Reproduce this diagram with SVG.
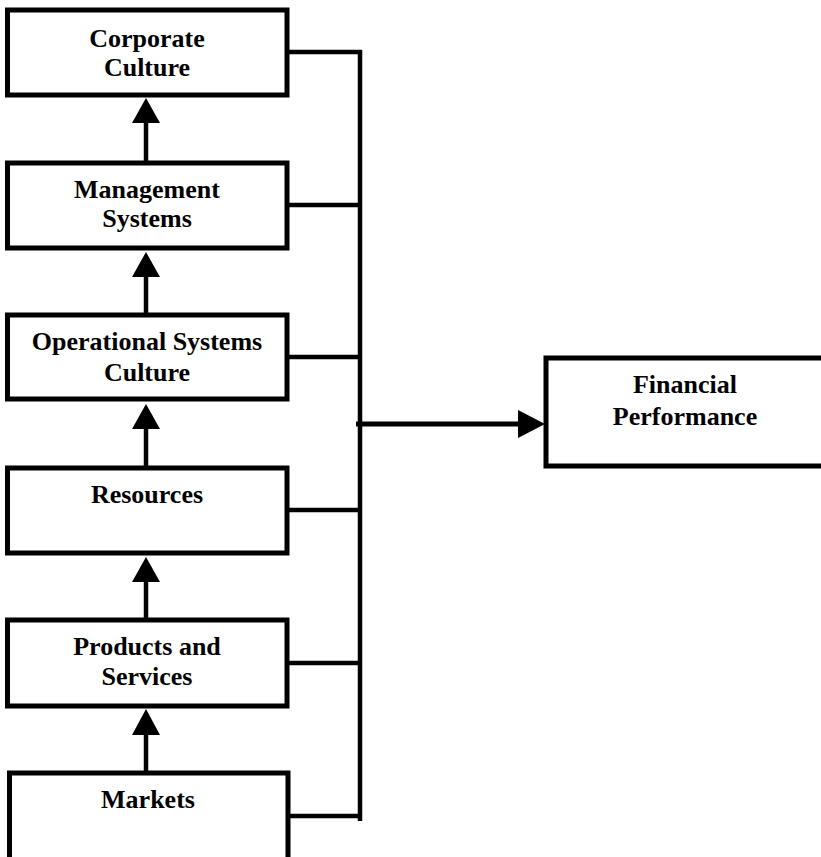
<svg xmlns="http://www.w3.org/2000/svg" width="821" height="857" viewBox="0 0 821 857">
<style>
.box{fill:#fff;stroke:#000;stroke-width:5}
.t{font-family:"Liberation Serif","Times New Roman",serif;font-weight:bold;font-size:26px;text-anchor:middle;fill:#000}
.ln{stroke:#000;stroke-width:4.5;fill:none}
.ah{fill:#000}
</style>
<rect width="821" height="857" fill="#fff"/>
<g id="connectors">
  <line class="ln" x1="146" y1="120" x2="146" y2="163"/>
  <polygon class="ah" points="146,98 132,123 160,123"/>
  <line class="ln" x1="146" y1="274" x2="146" y2="315"/>
  <polygon class="ah" points="146,252 132,277 160,277"/>
  <line class="ln" x1="146" y1="426" x2="146" y2="468"/>
  <polygon class="ah" points="146,404 132,429 160,429"/>
  <line class="ln" x1="146" y1="579" x2="146" y2="620"/>
  <polygon class="ah" points="146,557 132,582 160,582"/>
  <line class="ln" x1="146" y1="732" x2="146" y2="773"/>
  <polygon class="ah" points="146,709 132,735 160,735"/>
  <line class="ln" x1="360" y1="50" x2="360" y2="821"/>
  <line class="ln" x1="287" y1="52" x2="362" y2="52"/>
  <line class="ln" x1="287" y1="205" x2="362" y2="205"/>
  <line class="ln" x1="287" y1="357" x2="362" y2="357"/>
  <line class="ln" x1="287" y1="510" x2="362" y2="510"/>
  <line class="ln" x1="287" y1="663" x2="362" y2="663"/>
  <line class="ln" x1="287" y1="816" x2="362" y2="816"/>
  <line class="ln" x1="356" y1="424" x2="520" y2="424" style="stroke-width:5"/>
  <polygon class="ah" points="545,424 518,410 518,438"/>
</g>
<g id="corporate-culture">
  <rect class="box" x="7.5" y="10" width="279.5" height="85"/>
  <text class="t" x="147" y="47">Corporate</text>
  <text class="t" x="147" y="76">Culture</text>
</g>
<g id="management-systems">
  <rect class="box" x="7.5" y="163" width="279.5" height="85"/>
  <text class="t" x="147" y="198">Management</text>
  <text class="t" x="147" y="227">Systems</text>
</g>
<g id="operational-systems-culture">
  <rect class="box" x="7.5" y="315" width="279.5" height="84"/>
  <text class="t" x="147" y="350">Operational Systems</text>
  <text class="t" x="147" y="381">Culture</text>
</g>
<g id="resources">
  <rect class="box" x="7.5" y="468" width="279.5" height="85"/>
  <text class="t" x="147" y="503">Resources</text>
</g>
<g id="products-and-services">
  <rect class="box" x="7.5" y="620" width="279.5" height="86"/>
  <text class="t" x="147" y="655">Products and</text>
  <text class="t" x="147" y="685">Services</text>
</g>
<g id="markets">
  <rect class="box" x="9.5" y="773" width="278.5" height="100"/>
  <text class="t" x="148" y="808">Markets</text>
</g>
<g id="financial-performance">
  <rect class="box" x="546" y="358" width="280" height="108"/>
  <text class="t" x="685" y="393">Financial</text>
  <text class="t" x="685" y="425">Performance</text>
</g>
</svg>
